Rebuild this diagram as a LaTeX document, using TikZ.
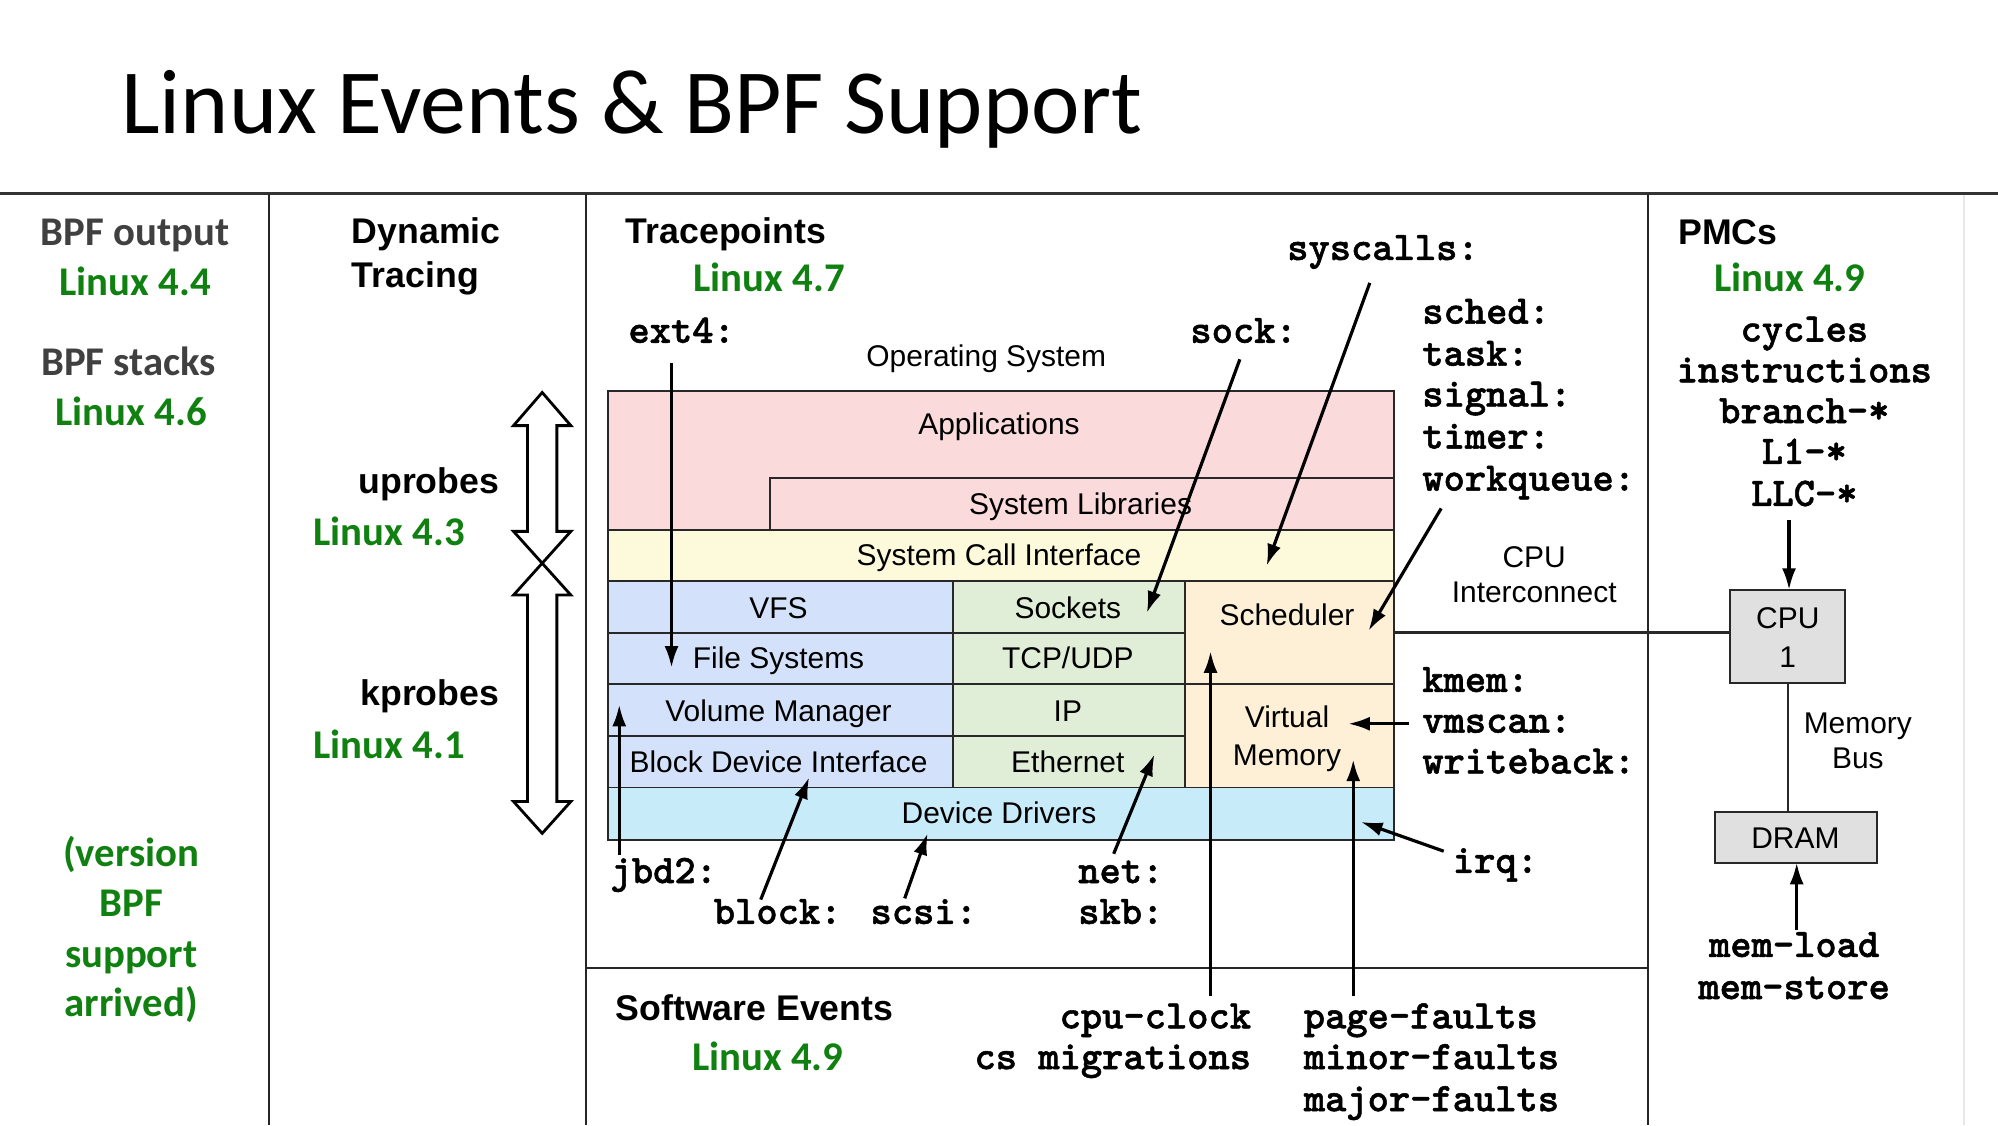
\documentclass[tikz,border=0pt]{standalone}
\usepackage{fontspec}
\setmainfont{Liberation Sans}
\newfontfamily\calfont{Carlito}
\newfontfamily\helvfont{Liberation Sans}
\newfontfamily\monofont{lmmonolt10-bold.otf}[FakeBold=1.3]
\usetikzlibrary{arrows.meta}
\definecolor{vgreen}{RGB}{16,128,16}
\definecolor{bpfgray}{RGB}{64,64,64}
\definecolor{apppink}{RGB}{250,218,218}
\definecolor{sciyellow}{RGB}{253,250,220}
\definecolor{fsblue}{RGB}{211,226,250}
\definecolor{netgreen}{RGB}{224,238,215}
\definecolor{cpuorange}{RGB}{254,240,215}
\definecolor{drvcyan}{RGB}{200,235,250}
\definecolor{hwgray}{RGB}{224,224,224}
\definecolor{boxline}{RGB}{40,40,40}
\definecolor{faintline}{RGB}{232,232,232}
\begin{document}
\begin{tikzpicture}[x=1pt,y=-1pt,
  calb/.style={font=\calfont\bfseries\fontsize{32}{38}\selectfont, inner sep=0},
  hb/.style={font=\helvfont\bfseries\fontsize{28}{34}\selectfont, inner sep=0},
  hr/.style={font=\helvfont\fontsize{23.5}{28}\selectfont, inner sep=0},
  mono/.style={font=\monofont\fontsize{31.8}{36}\selectfont, inner sep=0},
  box/.style={draw=boxline, line width=1.5pt, inner sep=0, outer sep=0, anchor=north west},
  arr/.style={line width=2.5pt, -{Latex[length=17pt,width=11pt]}},
  gridline/.style={line width=1.5pt, draw=black!85},
  bigarrow/.style={draw=black, fill=white, line width=2.2pt, line join=miter}
]
\useasboundingbox (0,0) rectangle (1568,883);
\fill[white] (0,0) rectangle (1568,883);

% title
\node[font=\calfont\fontsize{72}{86}\selectfont, anchor=base west, inner sep=0] (title) at (95,105) {Linux Events \& BPF Support};

% table lines
\draw[faintline, line width=1.5pt] (1541,152) -- (1541,883);
\draw[line width=2pt, draw=black!80] (0,152) -- (1568,152);
\draw[gridline] (211,152) -- (211,883);
\draw[gridline] (460,152) -- (460,883);
\draw[gridline] (1293,152) -- (1293,883);
\draw[gridline] (460,760) -- (1293,760);

% column 1
\node[calb, text=bpfgray, anchor=base] (bpfout) at (106,193) {BPF output};
\node[calb, text=vgreen, anchor=base] (v44) at (106,232) {Linux 4.4};
\node[calb, text=bpfgray, anchor=base] (bpfstk) at (101,295) {BPF stacks};
\node[calb, text=vgreen, anchor=base] (v46) at (103,334) {Linux 4.6};
\node[calb, text=vgreen, anchor=base] (note1) at (103,680) {(version};
\node[calb, text=vgreen, anchor=base] (note2) at (103,719) {BPF};
\node[calb, text=vgreen, anchor=base] (note3) at (103,759) {support};
\node[calb, text=vgreen, anchor=base] (note4) at (103,798) {arrived)};

% column 2
\node[hb, anchor=base west] (dyn1) at (276,191) {Dynamic};
\node[hb, anchor=base west] (dyn2) at (276,226) {Tracing};
\node[hb, anchor=base east] (uprobes) at (392,387) {uprobes};
\node[calb, text=vgreen, anchor=base west] (v43) at (246,428) {Linux 4.3};
\node[hb, anchor=base east] (kprobes) at (392,554) {kprobes};
\node[calb, text=vgreen, anchor=base west] (v41) at (246,595) {Linux 4.1};

\draw[bigarrow] (425.5,308) -- (448,334) -- (437,334) -- (437,417) -- (448,417) -- (425.5,442)
  -- (403,417) -- (414,417) -- (414,334) -- (403,334) -- cycle;
\draw[bigarrow] (425.5,442) -- (448,467) -- (437,467) -- (437,629) -- (448,629) -- (425.5,654)
  -- (403,629) -- (414,629) -- (414,467) -- (403,467) -- cycle;

% column 3 headings
\node[hb, anchor=base west] (tp) at (491,191) {Tracepoints};
\node[calb, text=vgreen, anchor=base west] (v47) at (544,229) {Linux 4.7};
\node[hr, anchor=base] (oslabel) at (774,288) {Operating System};
\node[hb, anchor=base west] (swev) at (483,801) {Software Events};
\node[calb, text=vgreen, anchor=base west] (v49a) at (543,840) {Linux 4.9};

% OS boxes
\node[box, fill=apppink, minimum width=617pt, minimum height=109pt] (apps) at (477,307) {};
\node[box, fill=apppink, minimum width=490pt, minimum height=41pt] (syslib) at (604,375) {};
\node[box, fill=sciyellow, minimum width=617pt, minimum height=40pt] (sci) at (477,416) {};
\node[box, fill=fsblue, minimum width=271pt, minimum height=40.5pt] (vfs) at (477,456) {};
\node[box, fill=fsblue, minimum width=271pt, minimum height=40.5pt] (fs) at (477,496.5) {};
\node[box, fill=fsblue, minimum width=271pt, minimum height=40.5pt] (volmgr) at (477,537) {};
\node[box, fill=fsblue, minimum width=271pt, minimum height=40.5pt] (bdi) at (477,577.5) {};
\node[box, fill=netgreen, minimum width=182pt, minimum height=40.5pt] (sockets) at (748,456) {};
\node[box, fill=netgreen, minimum width=182pt, minimum height=40.5pt] (tcp) at (748,496.5) {};
\node[box, fill=netgreen, minimum width=182pt, minimum height=40.5pt] (ip) at (748,537) {};
\node[box, fill=netgreen, minimum width=182pt, minimum height=40.5pt] (eth) at (748,577.5) {};
\node[box, fill=cpuorange, minimum width=164pt, minimum height=81pt] (sched) at (930,456) {};
\node[box, fill=cpuorange, minimum width=164pt, minimum height=81pt] (vmem) at (930,537) {};
\node[box, fill=drvcyan, minimum width=617pt, minimum height=41pt] (devdrv) at (477,618) {};

\node[hr, anchor=base] (tapps) at (784,341) {Applications};
\node[hr, anchor=base] (tsyslib) at (848,404) {System Libraries};
\node[hr, anchor=base] (tsci) at (784,444) {System Call Interface};
\node[hr, anchor=base] (tvfs) at (611,485) {VFS};
\node[hr, anchor=base] (tfs) at (611,525) {File Systems};
\node[hr, anchor=base] (tvol) at (611,566) {Volume Manager};
\node[hr, anchor=base] (tbdi) at (611,606) {Block Device Interface};
\node[hr, anchor=base] (tsock) at (838,485) {Sockets};
\node[hr, anchor=base] (ttcp) at (838,525) {TCP/UDP};
\node[hr, anchor=base] (tip) at (838,566) {IP};
\node[hr, anchor=base] (teth) at (838,606) {Ethernet};
\node[hr, anchor=base] (tsched) at (1010,491) {Scheduler};
\node[hr, anchor=base] (tvm1) at (1010,571) {Virtual};
\node[hr, anchor=base] (tvm2) at (1010,601) {Memory};
\node[hr, anchor=base] (tdrv) at (784,646) {Device Drivers};

% hardware
\node[box, fill=hwgray, minimum width=90pt, minimum height=73pt] (cpu) at (1358,463) {};
\node[hr, anchor=base] (tcpu1) at (1403,493) {CPU};
\node[hr, anchor=base] (tcpu2) at (1403,524) {1};
\node[box, fill=hwgray, minimum width=127pt, minimum height=40pt] (dram) at (1346,637) {};
\node[hr, anchor=base] (tdram) at (1409,666) {DRAM};
\node[hr, anchor=base] (ic1) at (1204,445) {CPU};
\node[hr, anchor=base] (ic2) at (1204,473) {Interconnect};
\node[hr, anchor=base] (mb1) at (1458,576) {Memory};
\node[hr, anchor=base] (mb2) at (1458,603) {Bus};
\draw[line width=2pt, draw=boxline] (sched.east) -- (sched.east -| cpu.west);
\draw[line width=2pt, draw=boxline] (cpu.south) -- (cpu.south |- dram.north);

% PMCs
\node[hb, anchor=base west] (pmcs) at (1317,192) {PMCs};
\node[calb, text=vgreen, anchor=base west] (v49b) at (1345,229) {Linux 4.9};
\node[mono, anchor=base] (pmc1) at (1416,268) {cycles};
\node[mono, anchor=base] (pmc2) at (1416,300) {instructions};
\node[mono, anchor=base] (pmc3) at (1416,332) {branch-*};
\node[mono, anchor=base] (pmc4) at (1416,364) {L1-*};
\node[mono, anchor=base] (pmc5) at (1416,397) {LLC-*};
\node[mono, anchor=base] (ml1) at (1408,751) {mem-load};
\node[mono, anchor=base] (ml2) at (1408,784) {mem-store};

% tracepoint labels
\node[mono, anchor=base west] (syscalls) at (1010,204) {syscalls:};
\node[mono, anchor=base west] (ext4) at (493,269) {ext4:};
\node[mono, anchor=base west] (sock) at (934,269) {sock:};
\node[mono, anchor=base west] (schedl) at (1116,254) {sched:};
\node[mono, anchor=base west] (task) at (1116,287) {task:};
\node[mono, anchor=base west] (signal) at (1116,319) {signal:};
\node[mono, anchor=base west] (timer) at (1116,352) {timer:};
\node[mono, anchor=base west] (wq) at (1116,385) {workqueue:};
\node[mono, anchor=base west] (kmem) at (1116,543) {kmem:};
\node[mono, anchor=base west] (vmscan) at (1116,575) {vmscan:};
\node[mono, anchor=base west] (wb) at (1116,607) {writeback:};
\node[mono, anchor=base west] (irq) at (1140,685) {irq:};
\node[mono, anchor=base west] (jbd2) at (479,693) {jbd2:};
\node[mono, anchor=base west] (block) at (560,725) {block:};
\node[mono, anchor=base west] (scsi) at (683,725) {scsi:};
\node[mono, anchor=base west] (net) at (846,693) {net:};
\node[mono, anchor=base west] (skb) at (846,725) {skb:};
\node[mono, anchor=base east] (cpuclk) at (982,807) {cpu-clock};
\node[mono, anchor=base east] (csmig) at (982,839) {cs migrations};
\node[mono, anchor=base west] (pf) at (1023,807) {page-faults};
\node[mono, anchor=base west] (minf) at (1023,839) {minor-faults};
\node[mono, anchor=base west] (majf) at (1023,872) {major-faults};

% arrow end points
\coordinate (a1s) at (527,285);  \coordinate (a1e) at (527,524);
\coordinate (a2s) at (973,282);  \coordinate (a2e) at (900,481);
\coordinate (a3s) at (1075,222); \coordinate (a3e) at (994,444);
\coordinate (a4s) at (1131,399); \coordinate (a4e) at (1074,495);
\coordinate (a5s) at (1106,568); \coordinate (a5e) at (1058,568);
\coordinate (a6s) at (1133,668); \coordinate (a6e) at (1068,645);
\coordinate (a7s) at (486,671);  \coordinate (a7e) at (486,553);
\coordinate (a8s) at (597,706);  \coordinate (a8e) at (635,610);
\coordinate (a9s) at (710,705);  \coordinate (a9e) at (728,654);
\coordinate (a10s) at (874,670); \coordinate (a10e) at (906,592);
\coordinate (a11s) at (950,782); \coordinate (a11e) at (950,511);
\coordinate (a12s) at (1062,782); \coordinate (a12e) at (1062,596);
\coordinate (a13s) at (1404,408);
\coordinate (a14s) at (1410,730);

\draw[arr] (a1s) -- (a1e);
\draw[arr] (a2s) -- (a2e);
\draw[arr] (a3s) -- (a3e);
\draw[arr] (a4s) -- (a4e);
\draw[arr] (a5s) -- (a5e);
\draw[arr] (a6s) -- (a6e);
\draw[arr] (a7s) -- (a7e);
\draw[arr] (a8s) -- (a8e);
\draw[arr] (a9s) -- (a9e);
\draw[arr] (a10s) -- (a10e);
\draw[arr] (a11s) -- (a11e);
\draw[arr] (a12s) -- (a12e);
\draw[arr] (a13s) -- (a13s |- cpu.north);
\draw[arr] (a14s) -- (a14s |- dram.south);
\end{tikzpicture}
\end{document}
